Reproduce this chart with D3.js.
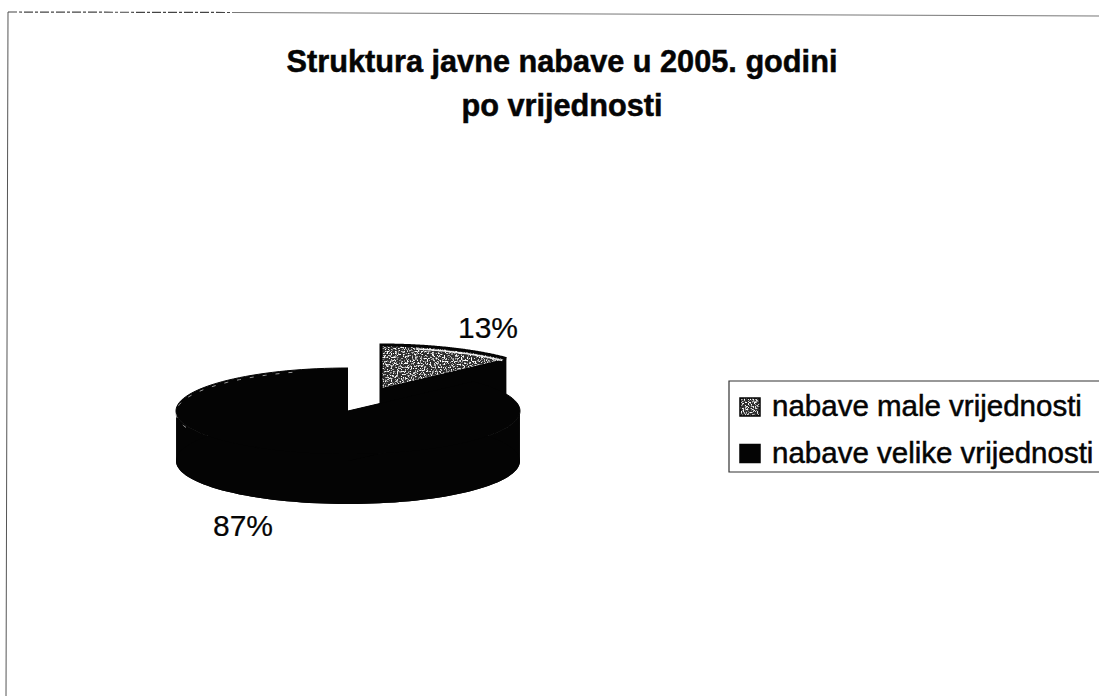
<!DOCTYPE html>
<html lang="en">
<head>
  <meta charset="UTF-8">
  <title>Struktura javne nabave</title>
  <script src="https://d3js.org/d3.v7.min.js"></script>
  <style>
    html, body { margin: 0; background: #fff; }
    text { font-family: "Liberation Sans", Arial, sans-serif; fill: #050505; }
    .title { font-size: 30.7px; font-weight: bold; text-anchor: middle; stroke: #050505; stroke-width: 0.5px; }
    .pct { font-size: 30px; stroke: #050505; stroke-width: 0.2px; }
    .legend { font-size: 29.5px; stroke: #050505; stroke-width: 0.5px; }
  </style>
</head>
<body>
  <svg id="chart" width="1099" height="696"></svg>
  <script>
    const titleLines = ['Struktura javne nabave u 2005. godini', 'po vrijednosti'];
    const categories = ['nabave male vrijednosti', 'nabave velike vrijednosti'];
    const values = [13, 87];
    const labels = ['13%', '87%'];

    const DARK = '#040404';
    const RX = 172, RY = 43, DEPTH = 50;
    // the small slice is pulled out of the pie
    const centers = [{ x: 381, y: 388 }, { x: 348, y: 411 }];
    const labelPos = [{ x: 458, y: 338 }, { x: 213, y: 536 }];

    const svg = d3.select('#chart');

    // scan grain for the small slice
    const grain = svg.append('defs').append('filter')
      .attr('id', 'grain')
      .attr('x', 0).attr('y', 0).attr('width', 1).attr('height', 1);
    grain.append('feTurbulence')
      .attr('type', 'fractalNoise').attr('baseFrequency', 0.7)
      .attr('numOctaves', 2).attr('seed', 4).attr('result', 'noise');
    grain.append('feColorMatrix')
      .attr('in', 'noise').attr('type', 'matrix')
      .attr('values', '0 0 0 0 1  0 0 0 0 1  0 0 0 0 1  6 0 0 0 -3.1')
      .attr('result', 'specks');
    grain.append('feComposite')
      .attr('in', 'specks').attr('in2', 'SourceAlpha').attr('operator', 'in').attr('result', 'clipped');
    const merge = grain.append('feMerge');
    merge.append('feMergeNode').attr('in', 'SourceGraphic');
    merge.append('feMergeNode').attr('in', 'clipped');

    // frame left over from the scan, slightly skewed
    const frame = svg.append('g').attr('fill', 'none');
    frame.append('line').attr('x1', 8).attr('y1', 12).attr('x2', 6).attr('y2', 696)
      .attr('stroke', '#555').attr('stroke-width', 1);
    frame.append('line').attr('x1', 8).attr('y1', 12).attr('x2', 232).attr('y2', 12.5)
      .attr('stroke', '#444').attr('stroke-width', 1.2).attr('stroke-dasharray', '9 2 3 2');
    frame.append('line').attr('x1', 232).attr('y1', 12.5).attr('x2', 1099).attr('y2', 16)
      .attr('stroke', '#777');

    svg.append('g').selectAll('text')
      .data(titleLines)
      .enter().append('text')
      .attr('class', 'title')
      .attr('x', 562)
      .attr('y', (d, i) => 72 + i * 44)
      .text(d => d);

    // 0 = top of the pie, clockwise
    const slices = d3.pie().sort(null)(values);
    const onRim = (c, a, dy) => [c.x + RX * Math.sin(a), c.y - RY * Math.cos(a) + dy];
    const rim = d => d3.range(0, 121).map(k =>
      d.startAngle + (d.endAngle - d.startAngle) * k / 120);

    const line = d3.line();
    const pieG = svg.append('g');

    // drawn slice by slice, back one first
    slices.forEach((d, i) => {
      const c = centers[i];
      const angles = rim(d);
      const top = angles.map(a => onRim(c, a, 0));
      const bottom = angles.map(a => onRim(c, a, DEPTH));
      const centerTop = [c.x, c.y];
      const centerBottom = [c.x, c.y + DEPTH];

      // only the front of the rim shows
      const front = angles.filter(a => Math.cos(a) <= 0);
      if (front.length) {
        pieG.append('path')
          .attr('d', line([
            ...front.map(a => onRim(c, a, 0)),
            ...front.slice().reverse().map(a => onRim(c, a, DEPTH))
          ]) + 'Z')
          .attr('fill', DARK);
      }
      pieG.append('path')
        .attr('d', line([centerBottom, ...bottom]) + 'Z')
        .attr('fill', DARK);
      // cut faces
      [0, 120].forEach(k => {
        pieG.append('path')
          .attr('d', line([centerTop, top[k], bottom[k], centerBottom]) + 'Z')
          .attr('fill', DARK);
      });

      pieG.append('path')
        .attr('d', line([centerTop, ...top]) + 'Z')
        .attr('fill', i === 0 ? '#2e2e2e' : DARK)
        .attr('filter', i === 0 ? 'url(#grain)' : null);
      pieG.append('path')
        .attr('d', line(i === 0 ? [centerBottom, centerTop, ...top] : [centerTop, ...top]))
        .attr('fill', 'none')
        .attr('stroke', DARK)
        .attr('stroke-width', i === 0 ? 3 : 1);
    });

    // pale rim of the small slice and worn edge of the large one
    const small = rim(slices[0]).map(a => onRim({ x: centers[0].x, y: centers[0].y + 3 }, a, 0));
    pieG.append('path')
      .attr('d', line(small.slice(30, 116)))
      .attr('fill', 'none').attr('stroke', '#eee').attr('stroke-width', 1.5);
    const large = rim(slices[1]).map(a => onRim({ x: centers[1].x, y: centers[1].y + 2 }, a, 0));
    pieG.append('path')
      .attr('d', line(large.slice(78, 114)))
      .attr('fill', 'none').attr('stroke', '#999').attr('stroke-width', 1).attr('stroke-dasharray', '4 9');

    svg.append('g').selectAll('text')
      .data(labels)
      .enter().append('text')
      .attr('class', 'pct')
      .attr('x', (d, i) => labelPos[i].x)
      .attr('y', (d, i) => labelPos[i].y)
      .text(d => d);

    // legend
    const legend = svg.append('g');
    legend.append('path')
      .attr('d', 'M1099,381H729V472H1099')
      .attr('fill', 'none').attr('stroke', '#333').attr('stroke-width', 1.2);
    const row = legend.selectAll('g')
      .data(categories)
      .enter().append('g')
      .attr('transform', (d, i) => `translate(740,${398 + i * 46.5})`);
    row.append('rect')
      .attr('width', 20).attr('height', 18)
      .attr('fill', (d, i) => i === 0 ? '#2e2e2e' : DARK)
      .attr('filter', (d, i) => i === 0 ? 'url(#grain)' : null);
    row.append('rect')
      .attr('width', 20).attr('height', 18)
      .attr('fill', 'none')
      .attr('stroke', DARK).attr('stroke-width', 1.5);
    row.append('text')
      .attr('class', 'legend')
      .attr('x', 32)
      .attr('y', 18)
      .text(d => d);
  </script>
</body>
</html>
